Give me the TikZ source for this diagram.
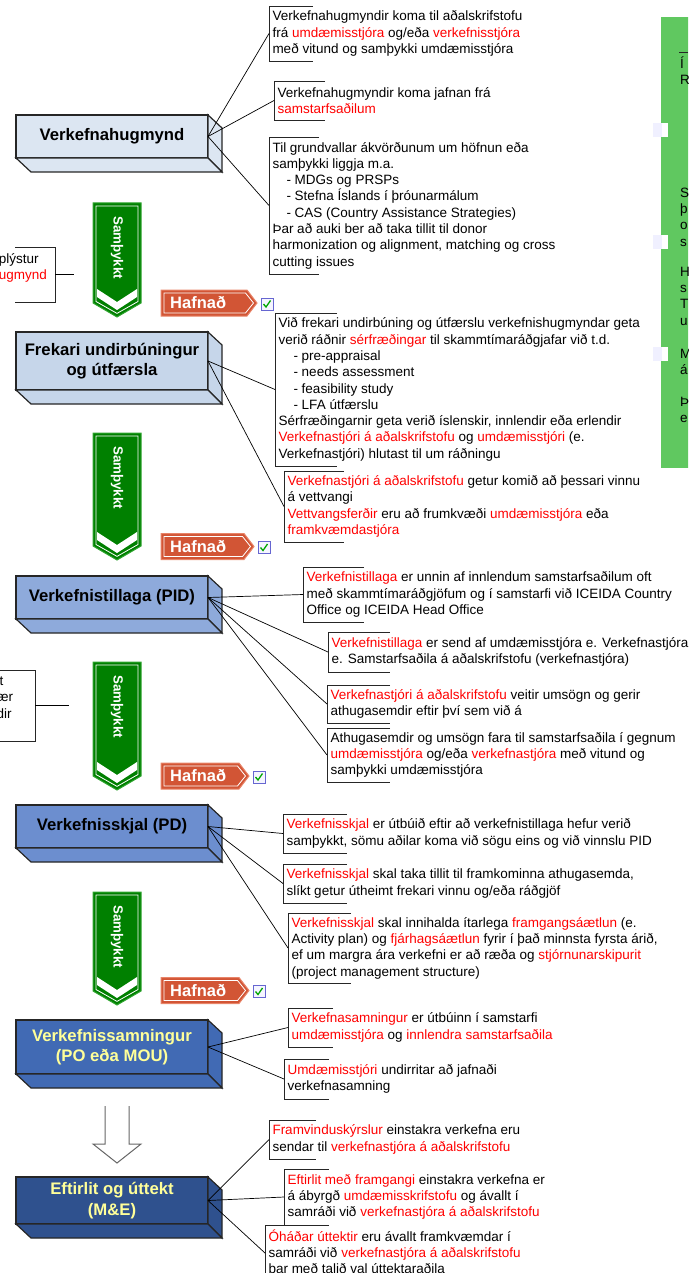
\documentclass[tikz,border=0pt]{standalone}
\usepackage{fontspec}
\setmainfont{Liberation Sans}
\usetikzlibrary{calc}
\definecolor{stA}{HTML}{DCE6F2}
\definecolor{stB}{HTML}{C6D6EA}
\definecolor{stC}{HTML}{8EAADB}
\definecolor{stD}{HTML}{6C8ECF}
\definecolor{stE}{HTML}{416AB4}
\definecolor{stF}{HTML}{2F518E}
\definecolor{okgreen}{HTML}{008000}
\definecolor{okedge}{HTML}{2FA52F}
\definecolor{nored}{HTML}{D25535}
\definecolor{noedge}{HTML}{E88468}
\definecolor{sidegreen}{HTML}{60C860}
\definecolor{lightyellow}{HTML}{FFFF99}
\newcommand{\rw}[1]{\textcolor{red}{#1}}

\begin{document}
\begin{tikzpicture}[x=1pt,y=-1pt,
  stage/.style={draw=black!85,line width=1.2pt,minimum width=192pt,inner sep=0pt,outer sep=0pt,align=center,font=\fontsize{16.7}{20.5}\selectfont\bfseries},
  depth/.style={draw=black!85,line width=1.2pt},
  note/.style={anchor=west,align=left,inner xsep=3.5pt,inner ysep=0pt,outer sep=0pt,font=\fontsize{13.5}{16.3}\selectfont},
  bracket/.style={draw=black!85,line width=0.9pt},
  link/.style={draw=black,line width=0.7pt},
  okbody/.style={fill=okgreen,draw=okedge,line width=1pt},
  oklabel/.style={rotate=-90,anchor=west,inner sep=0pt,text=white,font=\fontsize{13.3}{16}\selectfont\bfseries},
  nobody/.style={fill=nored,draw=noedge,line width=1pt},
  nolabel/.style={anchor=west,inner sep=0pt,text=white,font=\fontsize{16.5}{19}\selectfont\bfseries},
  chkbox/.style={draw=black!30!blue!60,fill=blue!4,line width=0.8pt,minimum size=12pt,inner sep=0pt},
  tick/.style={draw=green!65!black,line width=1.3pt},
  hollow/.style={draw=black!60,fill=white,line width=1pt},
  side/.style={anchor=west,align=left,inner sep=0pt,font=\fontsize{13.5}{16.3}\selectfont}]
\useasboundingbox (0,0) rectangle (688,1273);
\clip (0,0) rectangle (688,1273);

\fill[sidegreen] (661,17) rectangle (700,468);
\foreach \y in {123,235,347}{
  \fill[blue!6] (653,\y) rectangle (668,\y+14);
  \fill[white] (662,\y) rectangle (668,\y+14);
}
\draw[bracket] (679,52) -- (688,52);
\node (g1) [side] at (680,70.5) {Í\\R};
\node (g2) [side] at (680,217) {S\\þ\\o\\s};
\node (g3) [side] at (680,296) {H\\s\\T\\u};
\node (g4) [side] at (680,362) {M\\á};
\node (g5) [side] at (680,410) {Þ\\e};

\node (hug) [stage,fill=stA,minimum height=43pt] at (112,136.5) {Verkefnahugmynd};
\node (frek) [stage,fill=stB,minimum height=58pt] at (112,361) {Frekari undirbúningur\\og útfærsla};
\node (pid) [stage,fill=stC,minimum height=43pt] at (112,597.5) {Verkefnistillaga (PID)};
\node (pd) [stage,fill=stD,minimum height=43pt] at (112,826.5) {Verkefnisskjal (PD)};
\node (samn) [stage,fill=stE,minimum height=54pt,text=lightyellow] at (112,1047) {Verkefnissamningur\\(PO eða MOU)};
\node (eft) [stage,fill=stF,minimum height=47pt,text=lightyellow] at (112,1200.5) {Eftirlit og úttekt\\(M\&E)};
\foreach \n/\c in {hug/stA,frek/stB,pid/stC,pd/stD,samn/stE,eft/stF}{
  \filldraw[depth,fill=\c] (\n.north east) -- ([shift={(14,13)}]\n.north east) -- ([shift={(14,14)}]\n.south east) -- (\n.south east) -- cycle;
  \filldraw[depth,fill=\c] (\n.south west) -- ([shift={(15,14)}]\n.south west) -- ([shift={(14,14)}]\n.south east) -- (\n.south east) -- cycle;
}

\foreach \t/\b [count=\i] in {203/317,433/560,662/790,892/1005}{
  \filldraw[okbody] (93,\t) -- (141,\t) -- (141,\b-14) -- (117,\b) -- (93,\b-14) -- cycle;
  \draw[white,line width=0.8pt] (96,\t+3) -- (138,\t+3) -- (138,\b-15.5) -- (117,\b-3.6) -- (96,\b-15.5) -- cycle;
  \fill[white] (97,\b-28) -- (117,\b-15) -- (137,\b-28) -- (137,\b-20) -- (117,\b-7) -- (97,\b-20) -- cycle;
  \node (ok\i) [oklabel] at (117,\t+13) {Samþykkt};
}

\foreach \y/\tip [count=\i] in {303/257,546.5/254,776/249,990.5/249}{
  \filldraw[nobody] (161,\y-13) -- (\tip-10,\y-13) -- (\tip,\y) -- (\tip-10,\y+13) -- (161,\y+13) -- cycle;
  \draw[white,line width=0.8pt] (164,\y-10) -- (\tip-11.5,\y-10) -- (\tip-3.5,\y) -- (\tip-11.5,\y+10) -- (164,\y+10) -- cycle;
  \node (no\i) [nolabel] at (170,\y) {Hafnað};
  \node (cb\i) [chkbox] at (\tip+10,\y+1) {};
  \draw[tick] ([shift={(-3.5,0)}]cb\i.center) -- ([shift={(-1,3)}]cb\i.center) -- ([shift={(3.5,-3.5)}]cb\i.center);
}

\coordinate (dn) at (117,1106);
\filldraw[hollow] ([xshift=-12pt]dn) -- ++(0,38) -- ++(-12,0) -- ++(24,19) -- ++(24,-19) -- ++(-12,0) -- ([xshift=12pt]dn);

\node (a1) [note,minimum height=55pt] at (269,33.5) {Verkefnahugmyndir koma til aðalskrifstofu\\frá \rw{umdæmisstjóra} og/eða \rw{verkefnisstjóra}\\með vitund og samþykki umdæmisstjóra};
\node (a2) [note,minimum height=39pt] at (274,100.5) {Verkefnahugmyndir koma jafnan frá\\\rw{samstarfsaðilum}};
\node (a3) [note,minimum height=137pt] at (269,205.5) {Til grundvallar ákvörðunum um höfnun eða\\samþykki liggja m.a.\\\hspace*{14pt}- MDGs og PRSPs\\\hspace*{14pt}- Stefna Íslands í þróunarmálum\\\hspace*{14pt}- CAS (Country Assistance Strategies)\\Þar að auki ber að taka tillit til donor\\harmonization og alignment, matching og cross\\cutting issues};
\node (b1) [note,minimum height=153pt] at (275,389.5) {Við frekari undirbúning og útfærslu verkefnishugmyndar geta\\verið ráðnir \rw{sérfræðingar} til skammtímaráðgjafar við t.d.\\\hspace*{15pt}- pre-appraisal\\\hspace*{15pt}- needs assessment\\\hspace*{15pt}- feasibility study\\\hspace*{15pt}- LFA útfærslu\\Sérfræðingarnir geta verið íslenskir, innlendir eða erlendir\\\rw{Verkefnastjóri á aðalskrifstofu} og \rw{umdæmisstjóri} (e.\\Verkefnastjóri) hlutast til um ráðningu};
\node (b2) [note,minimum height=71pt] at (284,506.5) {\rw{Verkefnastjóri á aðalskrifstofu} getur komið að þessari vinnu\\á vettvangi\\\rw{Vettvangsferðir} eru að frumkvæði \rw{umdæmisstjóra} eða\\\rw{framkvæmdastjóra}};
\node (c1) [note,minimum height=55pt] at (303,594.5) {\rw{Verkefnistillaga} er unnin af innlendum samstarfsaðilum oft\\með skammtímaráðgjöfum og í samstarfi við ICEIDA Country\\Office og ICEIDA Head Office};
\node (c2) [note,minimum height=40pt] at (328,652) {\rw{Verkefnistillaga} er send af umdæmisstjóra e. Verkefnastjóra\\e. Samstarfsaðila á aðalskrifstofu (verkefnastjóra)};
\node (c3) [note,minimum height=38pt] at (327,704) {\rw{Verkefnastjóri á aðalskrifstofu} veitir umsögn og gerir\\athugasemdir eftir því sem við á};
\node (c4) [note,minimum height=54pt] at (327,755) {Athugasemdir og umsögn fara til samstarfsaðila í gegnum\\\rw{umdæmisstjóra} og/eða \rw{verkefnastjóra} með vitund og\\samþykki umdæmisstjóra};
\node (d1) [note,minimum height=39pt] at (283,833.5) {\rw{Verkefnisskjal} er útbúið eftir að verkefnistillaga hefur verið\\samþykkt, sömu aðilar koma við sögu eins og við vinnslu PID};
\node (d2) [note,minimum height=39pt] at (283,883.5) {\rw{Verkefnisskjal} skal taka tillit til framkominna athugasemda,\\slíkt getur útheimt frekari vinnu og/eða ráðgjöf};
\node (d3) [note,minimum height=70pt] at (288,948) {\rw{Verkefnisskjal} skal innihalda ítarlega \rw{framgangsáætlun} (e.\\Activity plan) og \rw{fjárhagsáætlun} fyrir í það minnsta fyrsta árið,\\ef um margra ára verkefni er að ræða og \rw{stjórnunarskipurit}\\(project management structure)};
\node (e1) [note,minimum height=39pt] at (288,1027.5) {\rw{Verkefnasamningur} er útbúinn í samstarfi\\\rw{umdæmisstjóra} og \rw{innlendra samstarfsaðila}};
\node (e2) [note,minimum height=40pt] at (284,1079) {\rw{Umdæmisstjóri} undirritar að jafnaði\\verkefnasamning};
\node (f1) [note,minimum height=39pt] at (269,1139.5) {\rw{Framvinduskýrslur} einstakra verkefna eru\\sendar til \rw{verkefnastjóra á aðalskrifstofu}};
\node (f2) [note,minimum height=56pt] at (284,1197) {\rw{Eftirlit með framgangi} einstakra verkefna er\\á ábyrgð \rw{umdæmisskrifstofu} og ávallt í\\samráði við \rw{verkefnastjóra á aðalskrifstofu}};
\node (f3) [note,minimum height=56pt] at (265,1253) {\rw{Óháðar úttektir} eru ávallt framkvæmdar í\\samráði við \rw{verkefnastjóra á aðalskrifstofu}\\þar með talið val úttektaraðila};

\foreach \n/\w in {a1/44,a2/51,a3/50,b1/62,b2/60,c1/61,c2/62,c3/63,c4/63,d1/64,d2/64,d3/63,e1/45,e2/45,f1/47,f2/45,f3/21}
  \draw[bracket] ([xshift=\w pt]\n.north west) -- (\n.north west) -- (\n.south west) -- ([xshift=\w pt]\n.south west);
\foreach \s/\n in {hug/a1,hug/a2,hug/a3,frek/b1,frek/b2,pid/c1,pid/c2,pid/c3,pid/c4,pd/d1,pd/d2,pd/d3,samn/e1,samn/e2,eft/f1,eft/f2,eft/f3}
  \draw[link] (\s.east) -- (\n.west);

\node (lp1) [note,anchor=east,inner xsep=8pt,minimum height=55pt] at (55,274.5) {plýstur\\\rw{ugmynd}\\\mbox{}};
\draw[bracket] ([xshift=-40pt]lp1.north east) -- (lp1.north east) -- (lp1.south east) -- ([xshift=-40pt]lp1.south east);
\coordinate (lp1x) at (74,274.5);
\draw[link] (lp1.east) -- (lp1x);
\node (lp2) [note,anchor=east,inner xsep=22pt,minimum height=71pt] at (35,705.5) {\hspace*{3pt}t\\ær\\dir\\\mbox{}};
\draw[bracket] ([xshift=-35pt]lp2.north east) -- (lp2.north east) -- (lp2.south east) -- ([xshift=-35pt]lp2.south east);
\coordinate (lp2x) at (69,705.5);
\draw[link] (lp2.east) -- (lp2x);
\end{tikzpicture}
\end{document}
